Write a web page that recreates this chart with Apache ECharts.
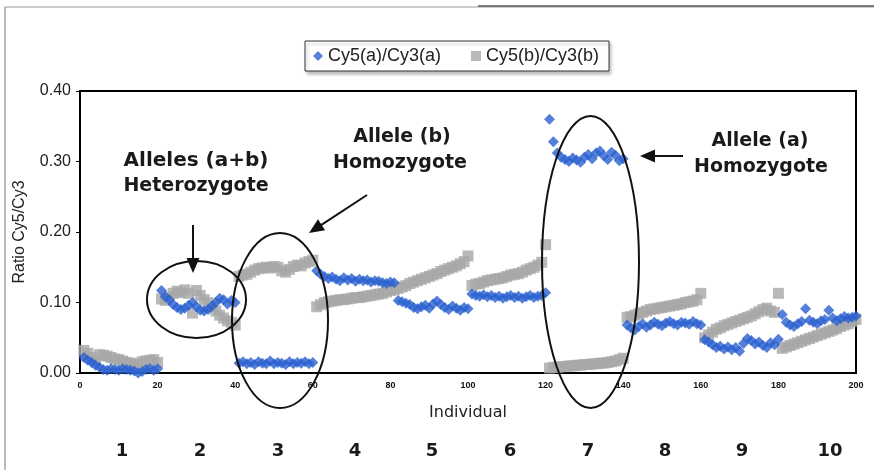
<!DOCTYPE html>
<html>
<head>
<meta charset="utf-8">
<script src="https://cdn.jsdelivr.net/npm/echarts@6/dist/echarts.min.js"></script>
<style>
html,body{margin:0;padding:0;background:#fff;}
#chart{width:874px;height:470px;}
</style>
</head>
<body>
<div id="chart"></div>
<script>
// ---- data ----
var seriesNames = ['Cy5(a)/Cy3(a)', 'Cy5(b)/Cy3(b)'];
var xTickLabels = ['0','20','40','60','80','100','120','140','160','180','200'];
var yTickLabels = ['0.00','0.10','0.20','0.30','0.40'];
var groupLabels = ['1','2','3','4','5','6','7','8','9','10'];

// Cy5(a)/Cy3(a), individuals 1..200
var ratioA = [
  0.022,0.018,0.015,0.011,0.008,0.005,0.004,0.006,0.005,0.004,0.006,0.005,0.004,0.003,0.000,0.002,0.005,0.006,0.004,0.006,
  0.117,0.108,0.104,0.097,0.093,0.090,0.092,0.096,0.100,0.094,0.089,0.088,0.090,0.095,0.100,0.106,0.104,0.098,0.103,0.100,
  0.014,0.016,0.013,0.015,0.012,0.016,0.014,0.013,0.017,0.013,0.015,0.014,0.012,0.016,0.013,0.015,0.014,0.016,0.013,0.015,
  0.145,0.140,0.137,0.134,0.136,0.133,0.131,0.135,0.132,0.134,0.130,0.133,0.131,0.132,0.129,0.131,0.130,0.128,0.127,0.129,
  0.128,0.103,0.101,0.099,0.097,0.093,0.091,0.094,0.096,0.092,0.098,0.102,0.097,0.093,0.090,0.095,0.092,0.089,0.093,0.091,
  0.112,0.110,0.109,0.111,0.108,0.110,0.107,0.109,0.106,0.108,0.110,0.107,0.109,0.106,0.108,0.110,0.107,0.109,0.110,0.114,
  0.360,0.328,0.312,0.306,0.303,0.300,0.305,0.302,0.299,0.306,0.310,0.304,0.312,0.315,0.308,0.303,0.313,0.309,0.301,0.304,
  0.068,0.064,0.061,0.066,0.070,0.065,0.068,0.072,0.069,0.067,0.071,0.073,0.070,0.068,0.072,0.071,0.069,0.073,0.070,0.068,
  0.047,0.044,0.040,0.036,0.038,0.034,0.037,0.033,0.036,0.031,0.042,0.049,0.046,0.041,0.044,0.039,0.036,0.043,0.040,0.048,
  0.083,0.072,0.068,0.066,0.070,0.073,0.091,0.075,0.072,0.070,0.074,0.076,0.089,0.078,0.074,0.077,0.080,0.078,0.079,0.081
];
// Cy5(b)/Cy3(b), individuals 1..200
var ratioB = [
  0.032,0.028,0.022,0.018,0.026,0.025,0.024,0.022,0.020,0.019,0.017,0.015,0.014,0.012,0.013,0.016,0.017,0.018,0.019,0.015,
  0.105,0.103,0.108,0.113,0.116,0.114,0.118,0.113,0.085,0.117,0.110,0.104,0.100,0.094,0.088,0.082,0.078,0.074,0.072,0.068,
  0.137,0.139,0.140,0.143,0.146,0.148,0.149,0.150,0.149,0.151,0.150,0.145,0.143,0.147,0.151,0.153,0.152,0.156,0.158,0.160,
  0.094,0.097,0.100,0.101,0.102,0.103,0.104,0.104,0.105,0.106,0.107,0.107,0.108,0.109,0.110,0.111,0.112,0.113,0.115,0.117,
  0.118,0.120,0.122,0.124,0.127,0.129,0.131,0.133,0.135,0.137,0.139,0.141,0.144,0.146,0.148,0.150,0.152,0.155,0.158,0.166,
  0.124,0.126,0.127,0.129,0.131,0.132,0.133,0.134,0.135,0.137,0.139,0.140,0.141,0.143,0.146,0.148,0.150,0.153,0.157,0.182,
  0.007,0.008,0.008,0.009,0.009,0.010,0.010,0.011,0.011,0.012,0.012,0.013,0.013,0.014,0.014,0.015,0.016,0.017,0.019,0.021,
  0.079,0.080,0.082,0.084,0.086,0.088,0.090,0.091,0.092,0.093,0.094,0.095,0.096,0.097,0.098,0.100,0.101,0.102,0.104,0.113,
  0.050,0.054,0.058,0.062,0.064,0.067,0.069,0.071,0.073,0.075,0.077,0.079,0.081,0.084,0.087,0.090,0.092,0.088,0.086,0.113,
  0.035,0.037,0.039,0.041,0.043,0.045,0.047,0.049,0.051,0.053,0.055,0.057,0.059,0.061,0.063,0.066,0.068,0.070,0.073,0.076
];

function pairs(vals){ return vals.map(function(v,i){ return [i+1, v]; }); }

var chart = echarts.init(document.getElementById('chart'), null, {renderer:'canvas'});
var boldFont = '"DejaVu Sans", Verdana, sans-serif';
var txtColor = '#1a1a1a';

var option = {
  animation: false,
  backgroundColor: '#ffffff',
  textStyle: { fontFamily: '"Liberation Sans", Arial, sans-serif' },
  legend: {
    data: seriesNames,
    left: 305, top: 41,
    orient: 'horizontal',
    padding: [6, 10, 6, 8],
    itemGap: 30,
    itemWidth: 10, itemHeight: 10,
    borderColor: '#333', borderWidth: 1,
    backgroundColor: '#fff',
    shadowColor: 'rgba(0,0,0,0.25)', shadowBlur: 3, shadowOffsetX: 2, shadowOffsetY: 3,
    textStyle: { fontSize: 18, color: '#222', fontFamily: '"Liberation Sans", Arial, sans-serif' }
  },
  grid: {
    left: 80, right: 18, top: 91, bottom: 97,
    show: true, borderColor: '#000', borderWidth: 2, backgroundColor: 'transparent'
  },
  xAxis: {
    type: 'value', min: 0, max: 200, interval: 20,
    name: 'Individual', nameLocation: 'middle', nameGap: 32,
    nameTextStyle: { fontSize: 16, color: '#222', fontFamily: '"DejaVu Sans", sans-serif' },
    axisLine: { show: true, lineStyle: { color: '#000', width: 2 } },
    axisTick: { show: false },
    splitLine: { show: false },
    axisLabel: {
      fontSize: 9, fontWeight: 'bold', color: '#111', margin: 8,
      formatter: function(v){ return xTickLabels[Math.round(v/20)]; }
    }
  },
  yAxis: {
    type: 'value', min: 0, max: 0.4, interval: 0.1,
    name: 'Ratio Cy5/Cy3', nameLocation: 'middle', nameGap: 52, nameRotate: 90,
    nameTextStyle: { fontSize: 16, color: '#222' },
    axisLine: { show: true, lineStyle: { color: '#000', width: 2 } },
    axisTick: { show: true, inside: false, length: 4, lineStyle: { color: '#000' } },
    splitLine: { show: false },
    axisLabel: {
      fontSize: 16, color: '#222', margin: 9,
      formatter: function(v){ return yTickLabels[Math.round(v*10)]; }
    }
  },
  series: [
    {
      name: seriesNames[0], type: 'scatter', symbol: 'diamond', symbolSize: 11, z: 4,
      itemStyle: { color: '#2b60cf' },
      data: pairs(ratioA)
    },
    {
      name: seriesNames[1], type: 'scatter', symbol: 'rect', symbolSize: 11, z: 3,
      itemStyle: { color: '#a8a8a8' },
      data: pairs(ratioB)
    }
  ],
  graphic: []
};
chart.setOption(option);

// ---- annotations (decorations) ----
var g = [];
// outer frame
g.push({type:'line', z:0, shape:{x1:5,y1:7,x2:874,y2:7}, style:{stroke:'#9a9a9a', lineWidth:1}});
g.push({type:'line', z:0, shape:{x1:478,y1:6,x2:874,y2:6}, style:{stroke:'#555', lineWidth:1.5}});
g.push({type:'line', z:0, shape:{x1:5,y1:7,x2:5,y2:470}, style:{stroke:'#777', lineWidth:1}});

function ell(cx,cy,rx,ry){ g.push({type:'ellipse', z:100, shape:{cx:cx,cy:cy,rx:rx,ry:ry}, style:{fill:null, stroke:'#111', lineWidth:2}}); }
ell(196.5, 299.5, 49.5, 38.5);
ell(280, 320.5, 48, 87.5);
ell(590.5, 262, 48.5, 146);

function arrow(x1,y1,x2,y2){
  var dx=x2-x1, dy=y2-y1, L=Math.sqrt(dx*dx+dy*dy), ux=dx/L, uy=dy/L;
  var hl=15, hw=6.5;
  var bx=x2-hl*ux, by=y2-hl*uy, nx=-uy, ny=ux;
  g.push({type:'line', z:100, shape:{x1:x1,y1:y1,x2:bx+2*ux,y2:by+2*uy}, style:{stroke:'#111', lineWidth:2}});
  g.push({type:'polygon', z:100, shape:{points:[[x2,y2],[bx+hw*nx,by+hw*ny],[bx-hw*nx,by-hw*ny]]}, style:{fill:'#111'}});
}
arrow(193, 225, 193, 273);
arrow(367, 195, 309, 233);
arrow(683, 156, 640, 156);

function label(x,y,t,size){
  g.push({type:'text', z:100, x:x, y:y, style:{text:t, fill:txtColor, font:'bold '+size+'px '+boldFont, align:'center', verticalAlign:'middle'}});
}
label(196, 161, 'Alleles (a+b)', 20);
label(196, 186, 'Heterozygote', 19);
label(402, 137, 'Allele (b)', 19);
label(400, 163, 'Homozygote', 19);
label(760, 141, 'Allele (a)', 19);
label(761, 167, 'Homozygote', 19);

// group numbers under each block of 20 individuals
var groupLabelPx = [122, 200, 278, 355, 432, 510, 588, 665, 742, 830];
groupLabels.forEach(function(t, i){
  g.push({type:'text', z:100, x:groupLabelPx[i], y:451, style:{text:t, fill:txtColor, font:'bold 18px '+boldFont, align:'center', verticalAlign:'middle'}});
});

chart.setOption({graphic: g});
</script>
</body>
</html>
